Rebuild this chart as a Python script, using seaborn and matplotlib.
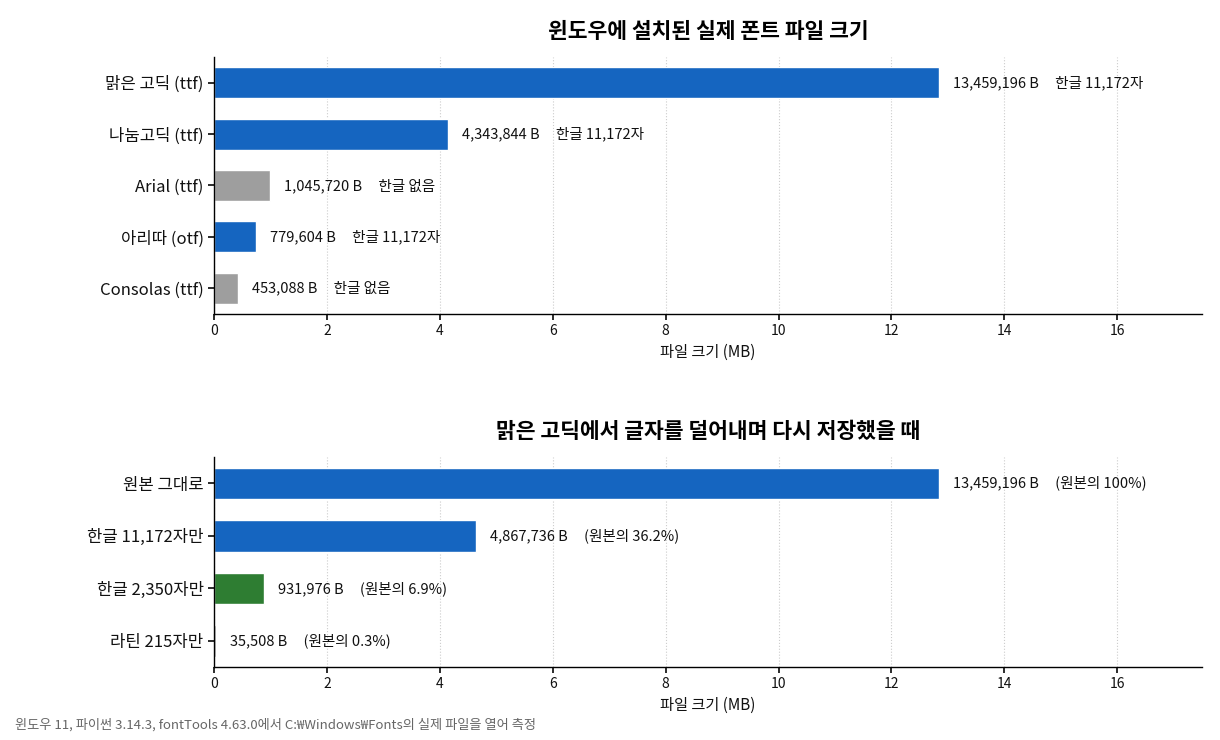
import pandas as pd
import numpy as np
import matplotlib
matplotlib.use('Agg')
import matplotlib.pyplot as plt
import seaborn as sns

sns.set_theme(style='white')
plt.rcParams['font.family'] = ['Noto Sans CJK KR', 'DejaVu Sans']
plt.rcParams['text.color'] = '#111111'
plt.rcParams['axes.labelcolor'] = '#111111'
plt.rcParams['xtick.color'] = '#111111'
plt.rcParams['ytick.color'] = '#111111'

# installed fonts
fonts = ['맑은 고딕 (ttf)', '나눔고딕 (ttf)', 'Arial (ttf)', '아리따 (otf)', 'Consolas (ttf)']
font_bytes = [13459196, 4343844, 1045720, 779604, 453088]
font_notes = ['한글 11,172자', '한글 11,172자', '한글 없음', '한글 11,172자', '한글 없음']
font_colors = ['#1565C0', '#1565C0', '#9E9E9E', '#1565C0', '#9E9E9E']

# subsets of malgun gothic
subsets = ['원본 그대로', '한글 11,172자만', '한글 2,350자만', '라틴 215자만']
subset_bytes = [13459196, 4867736, 931976, 35508]
subset_notes = ['(원본의 100%)', '(원본의 36.2%)', '(원본의 6.9%)', '(원본의 0.3%)']
subset_colors = ['#1565C0', '#1565C0', '#2E7D32', '#9E9E9E']

df1 = pd.DataFrame({'name': fonts, 'bytes': font_bytes, 'note': font_notes})
df1['mb'] = df1['bytes'] / 1024 / 1024
df2 = pd.DataFrame({'name': subsets, 'bytes': subset_bytes, 'note': subset_notes})
df2['mb'] = df2['bytes'] / 1024 / 1024

fig = plt.figure(figsize=(12.2, 7.4), dpi=100)
ax1 = fig.add_axes([0.1754, 0.5757, 0.8098, 0.3473])
ax2 = fig.add_axes([0.1754, 0.0986, 0.8098, 0.2838])


def draw(ax, df, colors, title):
    sns.barplot(data=df, x='mb', y='name', hue='name', palette=colors,
                orient='h', width=0.6, legend=False, saturation=1, ax=ax)
    for i, row in df.iterrows():
        ax.text(row['mb'] + 0.25, i, f"{row['bytes']:,} B     {row['note']}",
                va='center', ha='left', fontsize=10.5)
    ax.set_xlim(0, 17.5)
    ax.set_ylim(len(df) - 0.5, -0.5)
    ax.set_xticks(np.arange(0, 17, 2))
    ax.set_xlabel('파일 크기 (MB)', fontsize=11)
    ax.set_ylabel('')
    ax.set_title(title, fontsize=15.5, fontweight='bold', pad=14, color='black')
    ax.grid(axis='x', linestyle=':', color='#cccccc', linewidth=0.8)
    ax.set_axisbelow(True)
    ax.tick_params(axis='y', labelsize=12, left=True, length=4)
    ax.tick_params(axis='x', labelsize=10, bottom=True, length=4)
    for s in ['top', 'right']:
        ax.spines[s].set_visible(False)
    for s in ['left', 'bottom']:
        ax.spines[s].set_color('black')
        ax.spines[s].set_linewidth(1)


draw(ax1, df1, font_colors, '윈도우에 설치된 실제 폰트 파일 크기')
draw(ax2, df2, subset_colors, '맑은 고딕에서 글자를 덜어내며 다시 저장했을 때')

fig.text(0.012, 0.02, '윈도우 11, 파이썬 3.14.3, fontTools 4.63.0에서 C:₩Windows₩Fonts의 실제 파일을 열어 측정',
         fontsize=9.5, color='#666666', ha='left', va='center')

fig.savefig('out.png', dpi=100)
